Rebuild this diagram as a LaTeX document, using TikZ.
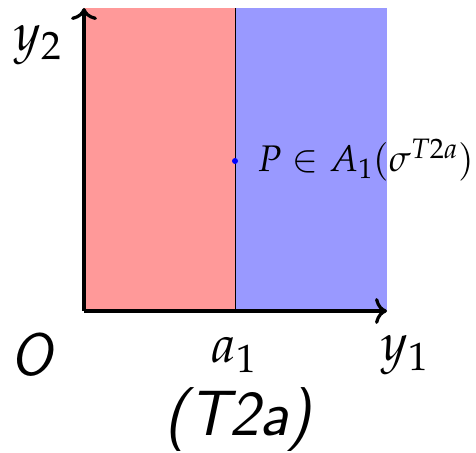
\documentclass[tikz,border=0pt]{standalone}
\usepackage{mathpazo}
\usepackage{amsmath}
\usetikzlibrary{arrows.meta}

\begin{document}
\begin{tikzpicture}[x=1pt, y=1pt]
  \useasboundingbox (-84, -141) rectangle (392, 311);
  \coordinate (O) at (0, 0);
  \coordinate (X) at (303, 0);
  \coordinate (Y) at (0, 303);
  \coordinate (A) at (151, 0);
  \coordinate (T) at (151, 303);
  \coordinate (P) at (151, 150);

  \fill[red!40] (O) rectangle (T);
  \fill[blue!40] (A) rectangle (303, 303);
  \draw[line width=0.8pt] (A) -- (T);
  \draw[line width=3.2pt, -{To[length=12pt, width=26pt]}] (O) -- (X);
  \draw[line width=3.2pt, -{To[length=12pt, width=26pt]}] (O) -- (Y);
  \fill[blue] (P) circle (3pt);

  \node[right, font=\fontsize{37}{40}\selectfont] (lP) at (170, 151) {$P \in A_1(\sigma^{T2a})$};
  \node[font=\fontsize{52}{56}\selectfont] (ly2) at (-46, 266) {$y_2$};
  \node[font=\fontsize{52}{56}\selectfont] (la1) at (150, -44) {$a_1$};
  \node[font=\fontsize{52}{56}\selectfont] (ly1) at (321, -44) {$y_1$};
  \node[font=\fontsize{60}{64}\selectfont\sffamily\itshape] (lO) at (-53, -44) {O};
  \node[font=\fontsize{64}{68}\selectfont\sffamily\itshape] (lT) at (154, -109) {(T2a)};
\end{tikzpicture}
\end{document}
